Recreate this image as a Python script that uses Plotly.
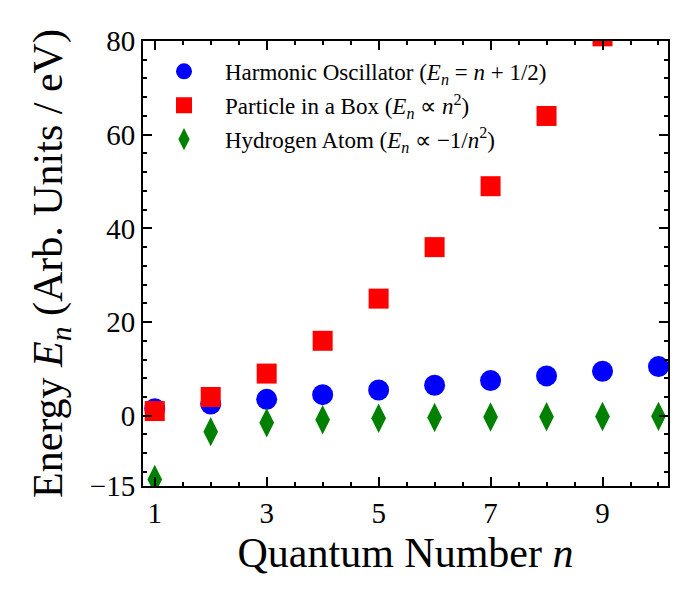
import plotly.graph_objects as go

n_vals = [1, 2, 3, 4, 5, 6, 7, 8, 9, 10]
harmonic = [1.5, 2.5, 3.5, 4.5, 5.5, 6.5, 7.5, 8.5, 9.5, 10.5]
box = [1, 4, 9, 16, 25, 36, 49, 64, 81, 100]
hydrogen = [-13.6, -3.4, -1.51, -0.85, -0.544, -0.378, -0.278, -0.2125, -0.168, -0.136]

x_ticks = [1, 3, 5, 7, 9]
y_ticks = [-15, 0, 20, 40, 60, 80]
y_tick_text = ["\u221215", "0", "20", "40", "60", "80"]

FONT = "Liberation Serif"

fig = go.Figure()
fig.add_trace(go.Scatter(
    x=n_vals, y=harmonic, mode="markers", legendgroup="a",
    name="Harmonic Oscillator (<i>E</i><sub><i>n</i></sub> = <i>n</i> + 1/2)",
    marker=dict(symbol="circle", size=21, color="#0000ff", line=dict(width=0)),
))
fig.add_trace(go.Scatter(
    x=n_vals, y=box, mode="markers", legendgroup="b",
    name="Particle in a Box (<i>E</i><sub><i>n</i></sub> \u221d <i>n</i><sup>2</sup>)",
    marker=dict(symbol="square", size=20, color="#ff0000", line=dict(width=0)),
))
fig.add_trace(go.Scatter(
    x=n_vals, y=hydrogen, mode="markers", legendgroup="c",
    name="Hydrogen Atom (<i>E</i><sub><i>n</i></sub> \u221d \u22121/<i>n</i><sup>2</sup>)",
    marker=dict(symbol="diamond-tall", size=21, color="#008000", line=dict(width=0)),
))

axis_common = dict(
    showline=True, linecolor="black", linewidth=2, mirror="ticks",
    ticks="inside", ticklen=9, tickwidth=2, tickcolor="black",
    showgrid=False, zeroline=False, automargin=False,
    tickfont=dict(family=FONT, size=29, color="black"),
)

fig.update_xaxes(
    range=[0.79, 10.17], tickvals=x_ticks,
    title=dict(text="Quantum Number <i>n</i>", font=dict(family=FONT, size=42, color="black"), standoff=10),
    minor=dict(dtick=0.5, tick0=0, ticks="inside", ticklen=4, tickwidth=2, tickcolor="black"),
    **axis_common,
)
fig.update_yaxes(
    range=[-15, 80], tickvals=y_ticks, ticktext=y_tick_text,
    title=dict(text="Energy <i>E</i><sub><i>n</i></sub> (Arb. Units / eV)", font=dict(family=FONT, size=42, color="black"), standoff=14),
    minor=dict(dtick=4, tick0=0, ticks="inside", ticklen=4, tickwidth=2, tickcolor="black"),
    **axis_common,
)

fig.update_layout(
    width=700, height=600,
    margin=dict(l=135, r=40, t=33, b=122),
    plot_bgcolor="white", paper_bgcolor="white",
    showlegend=True,
    legend=dict(
        x=0.0, y=0.98, xanchor="left", yanchor="top",
        bgcolor="rgba(0,0,0,0)", borderwidth=0,
        font=dict(family=FONT, size=23, color="black"),
        itemsizing="trace", itemwidth=72, tracegroupgap=1,
    ),
)

fig.write_html("out.html")
